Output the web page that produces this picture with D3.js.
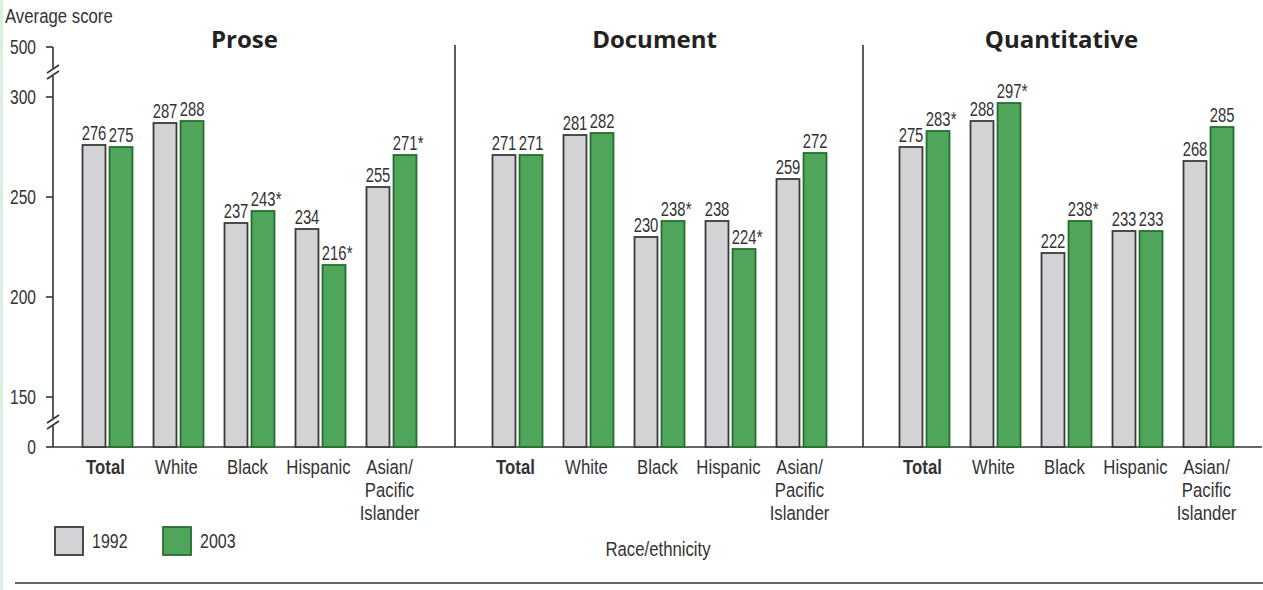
<!DOCTYPE html>
<html>
<head>
<meta charset="utf-8">
<script src="https://cdn.jsdelivr.net/npm/d3@7"></script>
<style>
  body { margin: 0; background: #fff; }
  svg text { font-family: "Liberation Sans", Arial, sans-serif; fill: #333; }
</style>
</head>
<body>
<svg id="chart" width="1263" height="590"></svg>
<script>
"use strict";
// data
const panels = ["Prose", "Document", "Quantitative"];
const categories = ["Total", "White", "Black", "Hispanic", "Asian/Pacific Islander"];
const categoryLines = [["Total"], ["White"], ["Black"], ["Hispanic"], ["Asian/", "Pacific", "Islander"]];
const years = ["1992", "2003"];
const prose1992 = [276, 287, 237, 234, 255];
const prose2003 = [275, 288, 243, 216, 271];
const document1992 = [271, 281, 230, 238, 259];
const document2003 = [271, 282, 238, 224, 272];
const quant1992 = [275, 288, 222, 233, 268];
const quant2003 = [283, 297, 238, 233, 285];
// asterisk = significantly different from 1992
const proseSig = [false, false, true, true, true];
const documentSig = [false, false, true, true, false];
const quantSig = [true, true, true, false, false];
const yTicks = [0, 150, 200, 250, 300, 500];

const series = [
  { name: panels[0], v1992: prose1992, v2003: prose2003, sig: proseSig },
  { name: panels[1], v1992: document1992, v2003: document2003, sig: documentSig },
  { name: panels[2], v1992: quant1992, v2003: quant2003, sig: quantSig }
];

const colors = { "1992": "#d3d3d5", "2003": "#4fa65a" };
const strokes = { "1992": "#3b3b3b", "2003": "#276d30" };
// the original face is a condensed one, so a normal face is squeezed
const sqNum = 0.76;
const sqWord = 0.86;
const fs = 19.5;

const svg = d3.select("#chart");

function label(parent, x, y, txt, anchor, sq, weight) {
  return parent.append("text")
    .attr("transform", "translate(" + x + "," + y + ") scale(" + sq + ",1)")
    .attr("text-anchor", anchor || "middle")
    .attr("font-size", fs)
    .attr("font-weight", weight || "normal")
    .text(txt);
}

// faint left border seen in the picture
svg.append("line").attr("x1", 1.5).attr("x2", 1.5).attr("y1", 0).attr("y2", 590)
  .attr("stroke", "#dcefdc").attr("stroke-width", 3);

const axisX = 53;
const baseY = 447;
// broken axis: 0 | 150..300 | 500
const y = d3.scaleLinear().domain([0, 150, 300, 500]).range([baseY, 397, 97, 47]);

const panelStart = [72, 482, 889];
const panelWidth = 355;
const dividers = [455, 863];

// y axis
const yAxis = svg.append("g");
const brk1 = y(400), brk2 = y(75);
[[y(500), brk1 - 4], [brk1 + 4, brk2 - 4], [brk2 + 4, baseY]].forEach(function (seg) {
  yAxis.append("line").attr("x1", axisX).attr("x2", axisX).attr("y1", seg[0]).attr("y2", seg[1])
    .attr("stroke", "#333").attr("stroke-width", 1.6);
});
[brk1, brk2].forEach(function (b) {
  [-3, 3].forEach(function (o) {
    yAxis.append("line")
      .attr("x1", axisX - 6).attr("y1", b + o + 4)
      .attr("x2", axisX + 6).attr("y2", b + o - 4)
      .attr("stroke", "#333").attr("stroke-width", 1.6);
  });
});
yAxis.selectAll(".tick").data(yTicks).enter().append("line")
  .attr("x1", axisX - 7).attr("x2", axisX)
  .attr("y1", d => y(d)).attr("y2", d => y(d))
  .attr("stroke", "#333").attr("stroke-width", 1.6);
yTicks.forEach(function (t) {
  label(yAxis, axisX - 17, y(t) + 7, t, "end", 0.8);
});

label(svg, 5, 23, "Average score", "start", sqWord);

// baseline and dividers
svg.append("line").attr("x1", axisX).attr("x2", 1262).attr("y1", baseY).attr("y2", baseY)
  .attr("stroke", "#333").attr("stroke-width", 1.6);
dividers.forEach(function (dx) {
  svg.append("line").attr("x1", dx).attr("x2", dx).attr("y1", 45).attr("y2", baseY)
    .attr("stroke", "#333").attr("stroke-width", 1.6);
});

series.forEach(function (s, pi) {
  const x0 = d3.scaleBand().domain(categories)
    .range([panelStart[pi], panelStart[pi] + panelWidth]).padding(0);
  const x1 = d3.scaleBand().domain(years).range([-25, 25]).paddingInner(0.15);
  const g = svg.append("g");

  g.append("text")
    .attr("x", panelStart[pi] + panelWidth / 2 - 5).attr("y", 48)
    .attr("text-anchor", "middle").attr("font-size", 24).attr("font-weight", "bold")
    .style("font-family", "'Open Sans', sans-serif").style("fill", "#222")
    .text(s.name);

  const rows = [];
  categories.forEach(function (c, i) {
    rows.push({ cat: c, year: "1992", v: s.v1992[i], sig: false });
    rows.push({ cat: c, year: "2003", v: s.v2003[i], sig: s.sig[i] });
  });

  g.selectAll("rect").data(rows).enter().append("rect")
    .attr("x", d => x0(d.cat) + x0.bandwidth() / 2 + x1(d.year))
    .attr("y", d => y(d.v))
    .attr("width", x1.bandwidth())
    .attr("height", d => y(0) - y(d.v))
    .attr("fill", d => colors[d.year])
    .attr("stroke", d => strokes[d.year])
    .attr("stroke-width", 1.8);

  rows.forEach(function (d) {
    const cx = x0(d.cat) + x0.bandwidth() / 2 + x1(d.year) + x1.bandwidth() / 2;
    const t = label(g, cx, y(d.v) - 5, d.v, "middle", sqNum);
    if (d.sig) {
      const w = t.node().getComputedTextLength() * sqNum;
      label(g, cx + w / 2 + 0.5, y(d.v) - 5, "*", "start", sqNum);
    }
  });

  categoryLines.forEach(function (lines, i) {
    const cx = x0(categories[i]) + x0.bandwidth() / 2 - 2;
    const t = label(g, cx, 474, null, "middle", sqWord, i === 0 ? "bold" : "normal");
    lines.forEach(function (ln, k) {
      t.append("tspan").attr("x", 0).attr("y", k * 23).text(ln);
    });
  });
});

label(svg, 658, 556, "Race/ethnicity", "middle", sqWord);

// legend
const legend = svg.append("g");
years.forEach(function (yr, i) {
  const lx = 55 + i * 108;
  legend.append("rect").attr("x", lx).attr("y", 527).attr("width", 28).attr("height", 28)
    .attr("fill", colors[yr]).attr("stroke", strokes[yr]).attr("stroke-width", 1.8);
  label(legend, lx + 37, 548, yr, "start", 0.82);
});

svg.append("line").attr("x1", 15).attr("x2", 1263).attr("y1", 583).attr("y2", 583)
  .attr("stroke", "#666").attr("stroke-width", 1.8);
</script>
</body>
</html>
